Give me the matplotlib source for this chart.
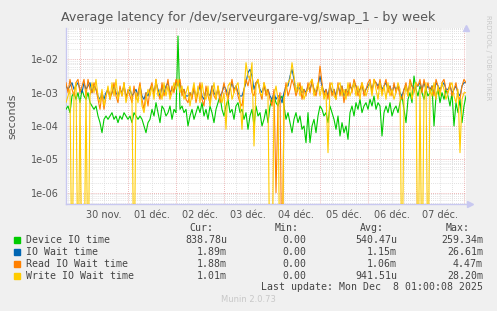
import numpy as np
import matplotlib
matplotlib.use("Agg")
from matplotlib import pyplot as plt
from matplotlib.patches import Rectangle

# hourly samples, 29 nov 17:00 -> 08 dec 01:00
# stored as -10*log10(seconds); 90 means ~0 (drawn down to the bottom like rrdtool)
device_io = [35, 34, 36, 31, 30, 32, 30, 33, 29, 31, 32, 30, 33, 34, 35, 34,
             37, 39, 42, 38, 37,
             38, 37, 36, 38, 37, 39, 37, 38, 36, 37, 38, 37, 39, 36, 37, 38, 37,
             38, 40, 42, 39, 38,
             35, 37, 33, 36, 39, 34, 35, 37, 36, 34, 38, 35, 36,
             13, 35, 34, 36, 35, 40, 37,
             35, 38, 36, 34, 36, 33, 37, 35, 38, 34, 36, 39, 35, 33, 31, 35,
             37, 34, 32, 36, 35, 38, 34, 33, 36,
             35, 38, 36, 41, 37, 35, 40, 34, 37, 36, 40, 38, 35, 39,
             34, 32, 31, 33, 34, 32, 31,
             34, 38, 36, 39, 42, 38, 36, 39, 37, 41, 40, 45,
             36, 45, 40, 38, 42, 37, 34,
             35, 37, 36, 39, 34, 36, 38, 41, 37, 43, 39, 42, 40, 44, 36, 34, 37, 33, 35, 32, 36, 34, 33,
             35, 32, 34, 31, 35, 33, 34, 43, 36, 34, 36, 33, 37, 35, 34, 36, 33, 31, 35, 39, 32, 30, 33, 25,
             29, 31, 28, 30, 32, 29, 31, 30, 28, 40, 31, 29, 33, 30, 32, 29, 31, 34, 30, 40, 33, 36, 32, 39, 34, 31]

io_wait = [28, 29, 28, 27, 29, 28, 27, 29, 30, 27, 29, 28, 27, 30, 28, 29,
           31, 32, 30, 32, 30,
           29, 31, 30, 28, 30, 31, 29, 30, 28, 31, 30, 29, 31, 30, 29, 31, 28,
           31, 32, 30, 31, 29,
           28, 30, 27, 29, 31, 28, 30, 28, 27, 30, 29, 29, 27,
           27, 27, 30, 29, 31, 31, 30,
           31, 29, 31, 30, 28, 31, 32, 29, 30, 31, 28, 30, 31, 29, 31, 30,
           28, 29, 31, 29, 27, 29, 28, 30, 31,
           31, 29, 27, 24, 23, 25, 29, 27, 27, 29, 30, 28, 30, 29,
           31, 32, 30, 32, 31, 31, 33,
           30, 28, 28, 25, 23, 26, 30, 28, 29, 30, 29, 30,
           28, 29, 27, 29, 30, 28, 25,
           28, 30, 29, 31, 28, 30, 29, 31, 28, 30, 28, 31, 29, 30, 28, 29, 27, 28, 30, 29, 28, 30, 29,
           28, 27, 29, 27, 27, 28, 27, 29, 28, 27, 29, 28, 30, 28, 29, 28, 30, 31, 29, 28, 30, 27, 28, 29, 28,
           28, 27, 29, 27, 29, 28, 29, 28, 30, 27, 28, 29, 28, 27, 29, 29, 28, 30, 29, 28, 30, 31, 28, 27, 27]

read_wait = [27, 30, 26, 29, 31, 27, 26, 30, 28, 26, 31, 26, 29, 30, 27, 29,
             32, 35, 30, 35, 31,
             29, 32, 30, 27, 31, 33, 28, 31, 27, 32, 29, 31, 33, 28, 32, 30, 27,
             32, 35, 30, 34, 29,
             27, 31, 26, 30, 32, 27, 31, 29, 26, 31, 28, 30, 26,
             28, 26, 31, 29, 32, 33, 30,
             32, 28, 33, 30, 27, 32, 34, 28, 31, 33, 28, 31, 32, 28, 33, 30,
             27, 30, 32, 29, 26, 30, 28, 31, 33,
             34, 29, 26, 28, 25, 30, 31, 27, 26, 30, 32, 27, 31, 29,
             32, 34, 29, 60, 33, 30, 90,
             32, 27, 31, 29, 26, 28, 31, 29, 27, 32, 29, 31,
             27, 30, 26, 29, 31, 28, 22,
             27, 31, 29, 32, 27, 31, 29, 32, 27, 31, 28, 33, 29, 31, 27, 30, 26, 28, 31, 29, 27, 31, 29,
             27, 26, 30, 26, 27, 29, 26, 30, 28, 26, 30, 28, 31, 27, 30, 28, 31, 32, 29, 27, 31, 26, 28, 30, 27,
             28, 26, 30, 26, 29, 27, 30, 28, 31, 26, 28, 30, 27, 26, 29, 30, 27, 31, 29, 27, 31, 32, 28, 26, 27]

write_wait = [33, 31, 29, 90, 30, 27, 90, 32, 90, 90, 29, 90, 31, 27, 30, 26,
              31, 33, 29, 34, 31,
              28, 32, 27, 31, 26, 32, 29, 31, 27, 33, 30, 28, 32, 90, 30, 33, 28,
              34, 36, 32, 29, 31,
              28, 32, 26, 31, 29, 32, 27, 31, 28, 32, 30, 27, 29,
              26, 30, 28, 32, 30, 28, 34,
              30, 27, 32, 28, 33, 27, 31, 32, 28, 34, 30, 27, 32, 28, 31, 33,
              30, 41, 28, 27, 32, 30, 28, 27, 32,
              41, 30, 21, 25, 26, 21, 46, 28, 26, 30, 31, 27, 29, 31,
              90, 90, 31, 28, 32, 90, 90,
              32, 29, 27, 26, 21, 25, 30, 27, 31, 28, 32, 30,
              29, 27, 26, 31, 29, 27, 31,
              28, 32, 30, 48, 28, 27, 31, 32, 28, 27, 31, 29, 32, 27, 31, 29, 27, 31, 28, 32, 27, 29, 31,
              29, 27, 31, 26, 29, 32, 27, 31, 28, 32, 27, 31, 29, 32, 30, 27, 29, 90, 32, 28, 31, 27, 32, 29, 27,
              90, 29, 90, 31, 27, 90, 29, 31, 27, 32, 28, 31, 27, 29, 32, 30, 28, 27, 31, 33, 29, 48, 32, 30, 30]

first_midnight = 7   # hour index of 30 nov 00:00
day_labels = ["30 nov.", "01 déc.", "02 déc.", "03 déc.", "04 déc.",
              "05 déc.", "06 déc.", "07 déc."]

names = ["Device IO time", "IO Wait time", "Read IO Wait time", "Write IO Wait time"]
colors = ["#00cc00", "#0066b3", "#ff8000", "#ffcc00"]
cur = ["838.78u", "1.89m", "1.88m", "1.01m"]
mins = ["0.00", "0.00", "0.00", "0.00"]
avgs = ["540.47u", "1.15m", "1.06m", "941.51u"]
maxs = ["259.34m", "26.61m", "4.47m", "28.20m"]

W, H = 497, 311


def fx(px):
    return px / W


def fy(py):
    return 1 - py / H


fig = plt.figure(figsize=(W / 100, H / 100), dpi=100, facecolor="#f0f0f0")
ax = fig.add_axes([fx(66), fy(204), 400 / W, 176 / H])
ax.set_facecolor("white")
ax.set_yscale("log")
ax.set_xlim(0, 200)
ax.set_ylim(10 ** -6.34, 10 ** -1.06)

# grid, drawn by hand like rrdtool does
for h in range(1, 200):
    if (h - first_midnight) % 24 == 0:
        ax.axvline(h, color="#e8a0a0", lw=0.6, ls=(0, (1, 1.5)), zorder=1)
    elif (h - first_midnight) % 6 == 0:
        ax.axvline(h, color="#d8d8d8", lw=0.6, ls=(0, (1, 1.5)), zorder=0)
for dec in range(-7, -1):
    for m in range(1, 10):
        v = m * 10.0 ** dec
        if m == 1:
            ax.axhline(v, color="#e8a0a0", lw=0.6, ls=(0, (1, 1.5)), zorder=1)
        else:
            ax.axhline(v, color="#d8d8d8", lw=0.6, ls=(0, (1, 1.5)), zorder=0)

for series, c in zip([device_io, io_wait, read_wait, write_wait], colors):
    vals = 10 ** (-np.array(series, dtype=float) / 10.0)
    ax.plot(np.arange(len(vals)), vals, color=c, lw=0.8, zorder=3)

# ticks
ax.set_yticks([10.0 ** d for d in range(-6, -1)])
ax.set_yticklabels(["1e-%02d" % -d for d in range(-6, -1)])
ax.yaxis.set_minor_locator(plt.NullLocator())
noon = [first_midnight + 12 + 24 * k for k in range(len(day_labels))]
ax.set_xticks(noon)
ax.set_xticklabels(day_labels)
ax.tick_params(axis="both", length=0, labelsize=7, colors="#555555")
ax.tick_params(axis="y", pad=5)
ax.tick_params(axis="x", pad=4)

for s in ["top", "right"]:
    ax.spines[s].set_visible(False)
for s in ["left", "bottom"]:
    ax.spines[s].set_color("#c8c8f0")
    ax.spines[s].set_linewidth(1.0)
ax.plot([1], [1], transform=ax.transAxes, marker="^", color="#c8c8f0",
        markersize=4, clip_on=False)
ax.plot([1.01], [0], transform=ax.transAxes, marker=">", color="#c8c8f0",
        markersize=4, clip_on=False)

ax.set_ylabel("seconds", fontsize=8, color="#555555", labelpad=10)

fig.text(0.5, fy(17), "Average latency for /dev/serveurgare-vg/swap_1 - by week",
         ha="center", va="center", fontsize=9.05, color="#555555")
fig.text(fx(488), fy(15), "RRDTOOL / TOBI OETIKER", rotation=270, ha="center",
         va="top", fontsize=4.8, color="#c8c8c8")

# legend block
mono = dict(family="DejaVu Sans Mono", fontsize=7.1, color="#444444", va="center")
for label, xr in zip(["Cur:", "Min:", "Avg:", "Max:"], [213, 299, 384, 470]):
    fig.text(fx(xr), fy(228), label, ha="right", **mono)
for k in range(4):
    y = 240 + 12 * k
    fig.patches.append(Rectangle((fx(14), fy(y + 3)), 6 / W, 6 / H,
                                 transform=fig.transFigure, color=colors[k]))
    fig.text(fx(26), fy(y), names[k], ha="left", **mono)
    fig.text(fx(227), fy(y), cur[k], ha="right", **mono)
    fig.text(fx(306), fy(y), mins[k], ha="right", **mono)
    fig.text(fx(397), fy(y), avgs[k], ha="right", **mono)
    fig.text(fx(483), fy(y), maxs[k], ha="right", **mono)
fig.text(fx(483), fy(287), "Last update: Mon Dec  8 01:00:08 2025", ha="right", **mono)
fig.text(fx(248), fy(300), "Munin 2.0.73", ha="center", va="center",
         fontsize=6, color="#c8c8c8")

fig.savefig("out.png", dpi=100, facecolor=fig.get_facecolor())
